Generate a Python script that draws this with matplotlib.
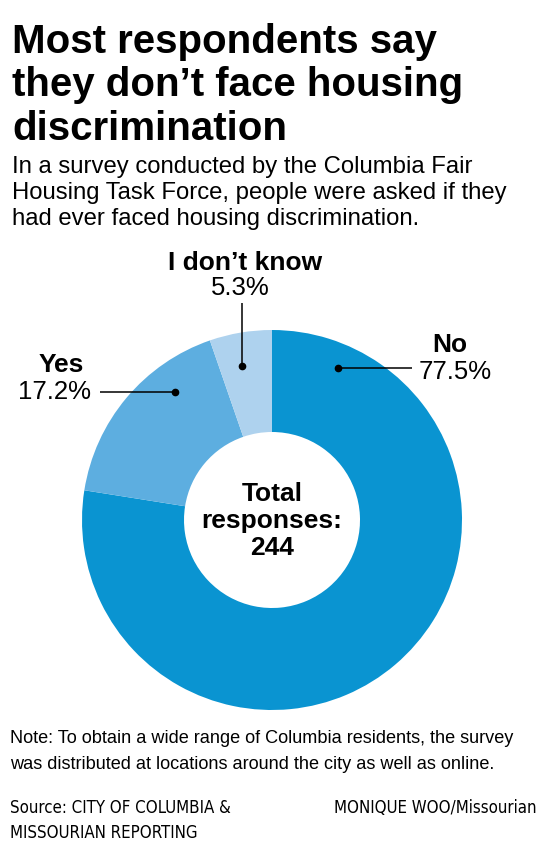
import matplotlib
matplotlib.use("Agg")
import matplotlib.pyplot as plt

# ---- data ----
categories = ["No", "Yes", "I don\u2019t know"]
shares = [77.5, 17.2, 5.3]
share_labels = ["77.5%", "17.2%", "5.3%"]
colors = ["#0A94D1", "#5DAEE0", "#AED2EE"]
total_responses = 244

title_lines = ["Most respondents say", "they don\u2019t face housing", "discrimination"]
subtitle_lines = ["In a survey conducted by the Columbia Fair",
                  "Housing Task Force, people were asked if they",
                  "had ever faced housing discrimination."]
note_lines = ["Note: To obtain a wide range of Columbia residents, the survey",
              "was distributed at locations around the city as well as online."]
source_lines = ["Source: CITY OF COLUMBIA &", "MISSOURIAN REPORTING"]
credit = "MONIQUE WOO/Missourian"

W, H = 544, 849
fig = plt.figure(figsize=(W / 100, H / 100), dpi=100)
fig.patch.set_facecolor("white")
renderer = fig.canvas.get_renderer()

def px(x, y):
    return x / W, 1 - y / H

FONT = "Liberation Sans"

def ftext(x, y, s, size, weight="normal", ha="left", family=FONT, stretch="normal"):
    fx, fy = px(x, y)
    return fig.text(fx, fy, s, fontsize=size, fontweight=weight, ha=ha,
                    va="baseline", family=family, fontstretch=stretch, color="black")

def fit_size(s, target_w, weight="normal", family=FONT, start=12, stretch="normal"):
    t = ftext(0, 0, s, start, weight, family=family, stretch=stretch)
    w = t.get_window_extent(renderer).width
    t.remove()
    return start * target_w / w

# title
ts = fit_size(title_lines[0], 425, "bold", start=28)
for i, line in enumerate(title_lines):
    ftext(12, [53, 96, 140][i], line, ts, "bold")
# subtitle
ss = fit_size(subtitle_lines[0], 461, start=16)
for i, line in enumerate(subtitle_lines):
    ftext(12, [173, 199, 225][i], line, ss)

# donut
cx, cy, R, r_in = 272, 520, 190, 88
ax = fig.add_axes([(cx - R) / W, (H - (cy + R)) / H, 2 * R / W, 2 * R / H])
ax.pie(shares, colors=colors, startangle=90, counterclock=False, radius=1,
       wedgeprops=dict(width=(R - r_in) / R, linewidth=0))
ax.set_xlim(-1, 1)
ax.set_ylim(-1, 1)
ax.set_aspect("equal")
ax.axis("off")

def d(pxx, pyy):
    return (pxx - cx) / R, (cy - pyy) / R

# leader lines and dots
leaders = [((338, 368), (412, 368)),   # No
           ((175, 392), (100, 392)),   # Yes
           ((242, 366), (242, 303))]   # I don't know
for (p0, p1) in leaders:
    x0, y0 = d(*p0)
    x1, y1 = d(*p1)
    ax.plot([x0, x1], [y0, y1], color="black", lw=1.1, clip_on=False,
            solid_capstyle="butt")
    ax.plot([x0], [y0], "o", color="black", ms=4.5, clip_on=False)

# category labels
ftext(450, 352, categories[0], 19, "bold", ha="center")
ftext(419, 379, share_labels[0], 18.5)
ftext(61, 372, categories[1], 19, "bold", ha="center")
ftext(55, 399, share_labels[1], 18.5, ha="center")
ftext(245, 270, categories[2], 19, "bold", ha="center")
ftext(240, 295, share_labels[2], 18.5, ha="center")

# center text
ftext(272, 501, "Total", 19, "bold", ha="center")
ftext(272, 528, "responses:", 19, "bold", ha="center")
ftext(272, 555, str(total_responses), 19, "bold", ha="center")

# note
ns = fit_size(note_lines[0], 505, start=12.6)
ftext(10, 743, note_lines[0], ns)
ftext(10, 769, note_lines[1], ns)

# source / credit
SF = "DejaVu Sans"
ST = "condensed"
srs = fit_size(source_lines[0], 220, family=SF, start=13, stretch=ST)
ftext(10, 813, source_lines[0], srs, family=SF, stretch=ST)
ftext(10, 838, source_lines[1], srs, family=SF, stretch=ST)
ftext(537, 813, credit, srs, ha="right", family=SF, stretch=ST)

fig.savefig("out.png", dpi=100, facecolor="white")
